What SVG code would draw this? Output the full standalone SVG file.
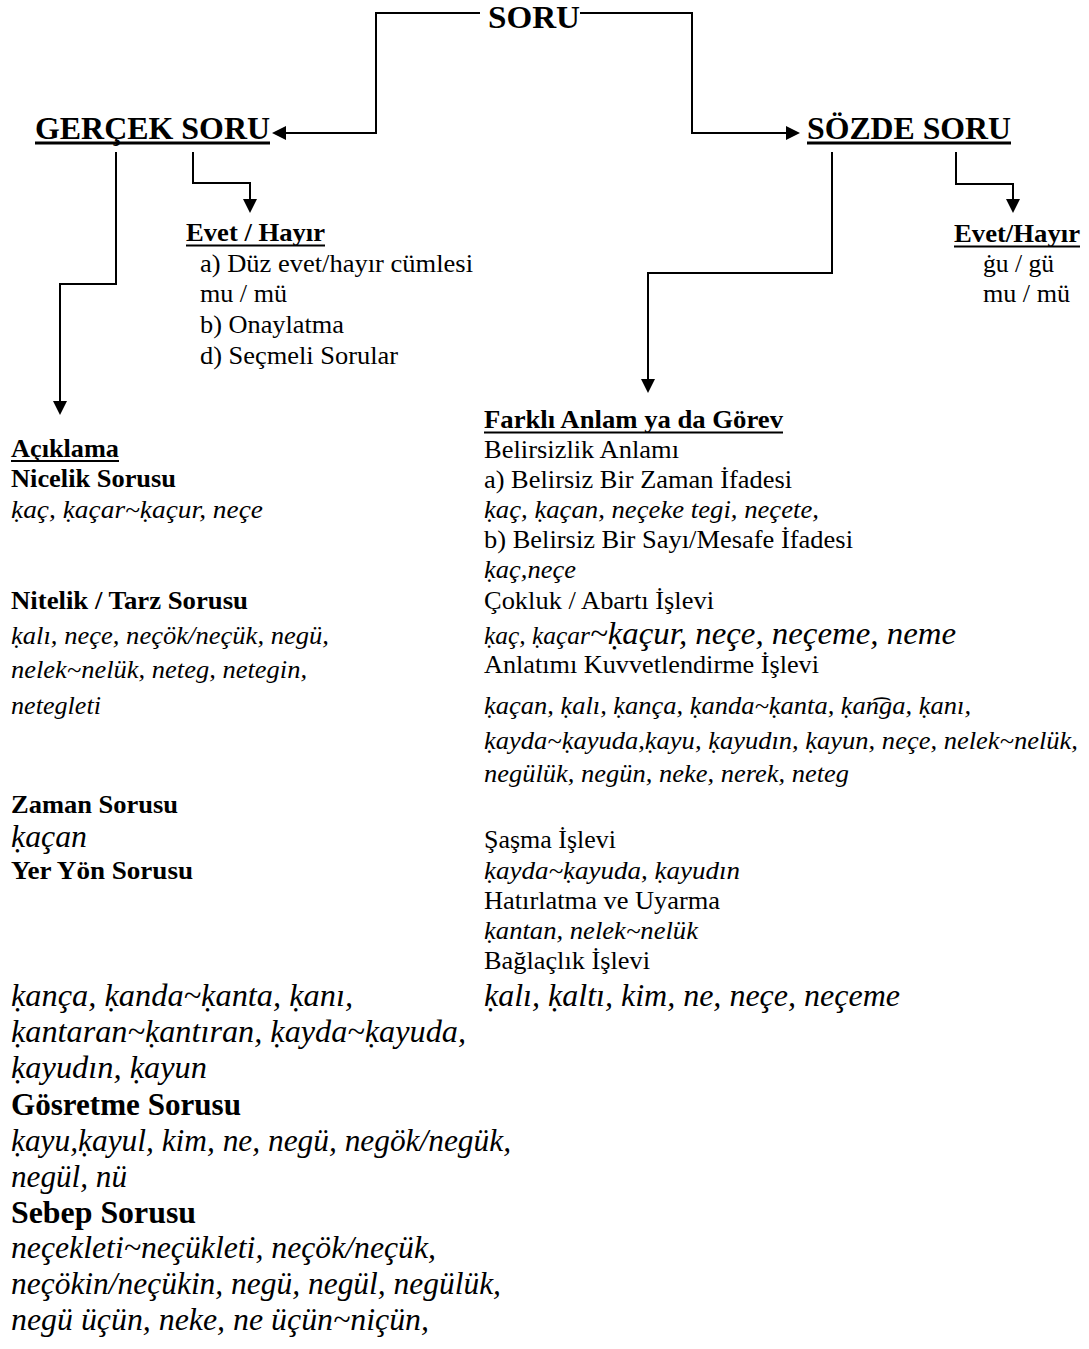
<svg xmlns="http://www.w3.org/2000/svg" width="1089" height="1349" viewBox="0 0 1089 1349">
<style>
text{font-family:"Liberation Serif","Times New Roman",Times,serif;fill:#000}
.h{font-size:32px;font-weight:bold}
.r{font-size:26px}
.b{font-size:26px;font-weight:bold}
.i{font-size:26px;font-style:italic}
.I{font-size:31px;font-style:italic}
.B{font-size:31px;font-weight:bold}
.ul{fill:#000}
.c{fill:none;stroke:#000;stroke-width:2;marker-end:url(#ah)}
</style>
<defs>
<marker id="ah" markerWidth="14" markerHeight="14" refX="12" refY="7" orient="auto" markerUnits="userSpaceOnUse">
<path d="M0,0 L14,7 L0,14 Z" fill="#000"/>
</marker>
</defs>
<rect width="1089" height="1349" fill="#fff"/>

<g id="connectors">
<path class="c" d="M480,13 H376 V133 H274"/>
<path class="c" d="M580,13 H692 V133 H798"/>
<path class="c" d="M116,152 V284 H60 V413"/>
<path class="c" d="M193,152 V183 H250 V211"/>
<path class="c" d="M832,152 V273 H648 V391"/>
<path class="c" d="M956,152 V184 H1013 V211"/>
</g>

<g id="soru">
<text class="h" x="488" y="28" textLength="92" lengthAdjust="spacingAndGlyphs">SORU</text>
</g>

<g id="gercek-soru">
<text class="h" x="35" y="139" textLength="235" lengthAdjust="spacingAndGlyphs">GERÇEK SORU</text>
<rect class="ul" x="35" y="141.5" width="235" height="3"/>
</g>

<g id="sozde-soru">
<text class="h" x="807" y="139" textLength="204" lengthAdjust="spacingAndGlyphs">SÖZDE SORU</text>
<rect class="ul" x="807" y="141.5" width="204" height="3"/>
</g>

<g id="evet-hayir-gercek">
<text class="b" x="186" y="241" textLength="139" lengthAdjust="spacingAndGlyphs">Evet / Hayır</text>
<rect class="ul" x="186" y="244.5" width="139" height="2"/>
<text class="r" x="200" y="272" textLength="273" lengthAdjust="spacingAndGlyphs">a) Düz evet/hayır cümlesi</text>
<text class="r" x="200" y="302" textLength="87" lengthAdjust="spacingAndGlyphs">mu / mü</text>
<text class="r" x="200" y="333" textLength="144" lengthAdjust="spacingAndGlyphs">b) Onaylatma</text>
<text class="r" x="200" y="364" textLength="198" lengthAdjust="spacingAndGlyphs">d) Seçmeli Sorular</text>
</g>

<g id="evet-hayir-sozde">
<text class="b" x="954" y="242" textLength="126" lengthAdjust="spacingAndGlyphs">Evet/Hayır</text>
<rect class="ul" x="954" y="245.5" width="126" height="2"/>
<text class="r" x="983" y="272" textLength="71" lengthAdjust="spacingAndGlyphs">ġu / gü</text>
<text class="r" x="983" y="302" textLength="87" lengthAdjust="spacingAndGlyphs">mu / mü</text>
</g>

<g id="aciklama">
<text class="b" x="11" y="457" textLength="108" lengthAdjust="spacingAndGlyphs">Açıklama</text>
<rect class="ul" x="11" y="460" width="108" height="2"/>
<text class="b" x="11" y="487" textLength="165" lengthAdjust="spacingAndGlyphs">Nicelik Sorusu</text>
<text class="i" x="11" y="518" textLength="252" lengthAdjust="spacingAndGlyphs">ḳaç, ḳaçar~ḳaçur, neçe</text>
<text class="b" x="11" y="609" textLength="237" lengthAdjust="spacingAndGlyphs">Nitelik / Tarz Sorusu</text>
<text class="i" x="11" y="644" textLength="318" lengthAdjust="spacingAndGlyphs">ḳalı, neçe, neçök/neçük, negü,</text>
<text class="i" x="11" y="678" textLength="296" lengthAdjust="spacingAndGlyphs">nelek~nelük, neteg, netegin,</text>
<text class="i" x="11" y="714" textLength="90" lengthAdjust="spacingAndGlyphs">netegleti</text>
<text class="b" x="11" y="813" textLength="167" lengthAdjust="spacingAndGlyphs">Zaman Sorusu</text>
<text class="I" x="11" y="847" textLength="76" lengthAdjust="spacingAndGlyphs">ḳaçan</text>
<text class="b" x="11" y="879" textLength="182" lengthAdjust="spacingAndGlyphs">Yer Yön Sorusu</text>
<text class="I" x="11" y="1006" textLength="342" lengthAdjust="spacingAndGlyphs">ḳança, ḳanda~ḳanta, ḳanı,</text>
<text class="I" x="11" y="1042" textLength="455" lengthAdjust="spacingAndGlyphs">ḳantaran~ḳantıran, ḳayda~ḳayuda,</text>
<text class="I" x="11" y="1078" textLength="196" lengthAdjust="spacingAndGlyphs">ḳayudın, ḳayun</text>
<text class="B" x="11" y="1115" textLength="230" lengthAdjust="spacingAndGlyphs">Gösretme Sorusu</text>
<text class="I" x="11" y="1151" textLength="500" lengthAdjust="spacingAndGlyphs">ḳayu,ḳayul, kim, ne, negü, negök/negük,</text>
<text class="I" x="11" y="1187" textLength="116" lengthAdjust="spacingAndGlyphs">negül, nü</text>
<text class="B" x="11" y="1223" textLength="185" lengthAdjust="spacingAndGlyphs">Sebep Sorusu</text>
<text class="I" x="11" y="1258" textLength="425" lengthAdjust="spacingAndGlyphs">neçekleti~neçükleti, neçök/neçük,</text>
<text class="I" x="11" y="1294" textLength="490" lengthAdjust="spacingAndGlyphs">neçökin/neçükin, negü, negül, negülük,</text>
<text class="I" x="11" y="1330" textLength="418" lengthAdjust="spacingAndGlyphs">negü üçün, neke, ne üçün~niçün,</text>
</g>

<g id="farkli-anlam">
<text class="b" x="484" y="428" textLength="299" lengthAdjust="spacingAndGlyphs">Farklı Anlam ya da Görev</text>
<rect class="ul" x="484" y="431.5" width="299" height="2"/>
<text class="r" x="484" y="458" textLength="195" lengthAdjust="spacingAndGlyphs">Belirsizlik Anlamı</text>
<text class="r" x="484" y="488" textLength="308" lengthAdjust="spacingAndGlyphs">a) Belirsiz Bir Zaman İfadesi</text>
<text class="i" x="484" y="518" textLength="335" lengthAdjust="spacingAndGlyphs">ḳaç, ḳaçan, neçeke tegi, neçete,</text>
<text class="r" x="484" y="548" textLength="369" lengthAdjust="spacingAndGlyphs">b) Belirsiz Bir Sayı/Mesafe İfadesi</text>
<text class="i" x="484" y="578" textLength="92" lengthAdjust="spacingAndGlyphs">ḳaç,neçe</text>
<text class="r" x="484" y="609" textLength="230" lengthAdjust="spacingAndGlyphs">Çokluk / Abartı İşlevi</text>
<text class="i" x="484" y="644" textLength="106" lengthAdjust="spacingAndGlyphs">ḳaç, ḳaçar</text>
<text class="I" x="590" y="644" textLength="366" lengthAdjust="spacingAndGlyphs">~ḳaçur, neçe, neçeme, neme</text>
<text class="r" x="484" y="673" textLength="335" lengthAdjust="spacingAndGlyphs">Anlatımı Kuvvetlendirme İşlevi</text>
<text class="i" x="484" y="714" textLength="487" lengthAdjust="spacingAndGlyphs">ḳaçan, ḳalı, ḳança, ḳanda~ḳanta, ḳan͡ga, ḳanı,</text>
<text class="i" x="484" y="749" textLength="594" lengthAdjust="spacingAndGlyphs">ḳayda~ḳayuda,ḳayu, ḳayudın, ḳayun, neçe, nelek~nelük,</text>
<text class="i" x="484" y="782" textLength="365" lengthAdjust="spacingAndGlyphs">negülük, negün, neke, nerek, neteg</text>
<text class="r" x="484" y="848" textLength="132" lengthAdjust="spacingAndGlyphs">Şaşma İşlevi</text>
<text class="i" x="484" y="879" textLength="256" lengthAdjust="spacingAndGlyphs">ḳayda~ḳayuda, ḳayudın</text>
<text class="r" x="484" y="909" textLength="236" lengthAdjust="spacingAndGlyphs">Hatırlatma ve Uyarma</text>
<text class="i" x="484" y="939" textLength="214" lengthAdjust="spacingAndGlyphs">ḳantan, nelek~nelük</text>
<text class="r" x="484" y="969" textLength="166" lengthAdjust="spacingAndGlyphs">Bağlaçlık İşlevi</text>
<text class="I" x="484" y="1006" textLength="416" lengthAdjust="spacingAndGlyphs">ḳalı, ḳaltı, kim, ne, neçe, neçeme</text>
</g>
</svg>
